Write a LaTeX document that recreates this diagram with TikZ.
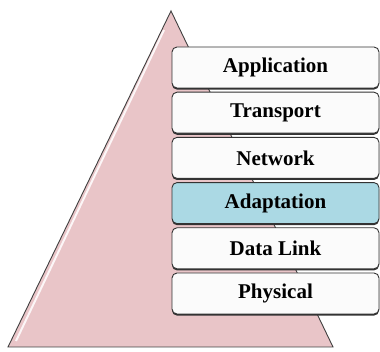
\documentclass[tikz,border=0pt]{standalone}
\usepackage{fontspec}
\setmainfont{Liberation Serif}
\usetikzlibrary{positioning,shadows}

\definecolor{pyramidpink}{HTML}{E9C5C8}
\definecolor{layerblue}{HTML}{ABD9E4}

\tikzset{
  layer/.style={draw=black!80, line width=0.9pt, rounded corners=5pt,
    fill=white!97!gray, minimum width=207pt, minimum height=41pt, inner sep=0pt,
    font=\bfseries\fontsize{21}{22}\selectfont,
    drop shadow={shadow xshift=0pt, shadow yshift=-1.6pt, fill=black!80, opacity=1}},
  hilite/.style={fill=layerblue}
}

\begin{document}
\begin{tikzpicture}[x=1pt,y=1pt]
  \useasboundingbox (0,0) rectangle (380,352);
  % pyramid behind the stack
  \coordinate (apex) at (171,341);
  \coordinate (baseL) at (8,5);
  \coordinate (baseR) at (333,5);
  \draw[fill=pyramidpink, draw=black!75, line width=0.9pt] (apex) -- (baseL) -- (baseR) -- cycle;
  \draw[white!85!pyramidpink, line width=2pt] (164,322) -- (16,11);

  % protocol layers, top down
  \node[layer] (app) at (275.5,284.5) {Application};
  \node[layer, below=3.3pt of app] (trans) {Transport};
  \node[layer, below=3.3pt of trans] (net) {Network};
  \node[layer, hilite, below=3.3pt of net] (adapt) {Adaptation};
  \node[layer, below=3.3pt of adapt] (link) {Data Link};
  \node[layer, below=3.3pt of link] (phys) {Physical};
\end{tikzpicture}
\end{document}
